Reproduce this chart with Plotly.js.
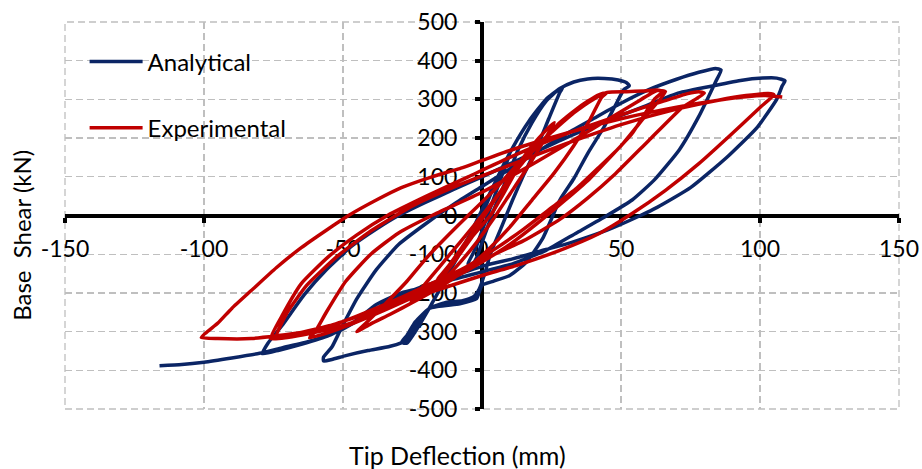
<!DOCTYPE html>
<html>
<head>
<meta charset="utf-8">
<script src="https://cdn.plot.ly/plotly-3.0.1.min.js"></script>
<style>html,body{margin:0;padding:0;background:#fff;}#chart{width:922px;height:469px;}</style>
</head>
<body>
<div id="chart"></div>
<script>
// Analytical (model) hysteresis: tip deflection (mm) and base shear (kN)
const analyticalDeflection = [
  0,4,8,10,8,4,0,-3,-5,-4,
  -2,1,4,8,13,18,23,27,29,28,
  24,20,15,11,7,3,1,-1,-3,-7,
  -13,-19,-24,-27,-29,-27,-24,-19,-14,-9,
  -4,0,5,11,17,23,28,33,38,44,
  49,52,53,51,48,44,38,33,28,22,
  16,10,4,0,-2,-8,-19,-24,-27,-33,
  -41,-49,-54,-57,-57,-54,-51,-45,-38,-30,
  -20,-10,0,10,20,30,40,50,60,70,
  78,84,86,84,78,71,62,54,45,34,
  23,11,3,-5,-12,-20,-29,-38,-46,-55,
  -65,-73,-79,-77,-72,-64,-56,-47,-38,-30,
  -20,-10,0,15,30,45,57,70,81,93,
  101,106,109,108,106,99,88,75,63,57,
  45,32,23,11,2,-11,-22,-32,-42,-52,
  -62,-72,-80,-90,-100,-108,-116
];
const analyticalShear = [
  0,70,135,160,120,40,-40,-95,-125,-135,
  -110,-50,10,80,170,240,295,322,330,318,
  250,180,105,40,-30,-100,-150,-190,-210,-220,
  -225,-240,-275,-310,-328,-330,-300,-240,-175,-110,
  -45,15,90,175,245,300,328,345,353,354,
  350,343,335,325,285,230,160,95,40,-57,
  -120,-155,-170,-180,-215,-228,-240,-290,-322,-338,
  -349,-362,-372,-376,-366,-340,-297,-215,-140,-75,
  -20,30,75,120,165,210,250,290,325,352,
  370,380,376,345,256,170,92,40,0,-45,
  -90,-125,-140,-155,-168,-185,-200,-230,-275,-310,
  -333,-348,-357,-330,-285,-205,-140,-80,-35,0,
  35,68,100,150,200,245,278,315,332,349,
  355,355,348,335,300,228,150,72,21,0,
  -38,-70,-88,-112,-127,-158,-185,-215,-260,-300,
  -325,-342,-356,-368,-379,-385,-388
];

// Experimental hysteresis
const experimentalDeflection = [
  0,5,10,15,13,8,3,-3,-9,-14,
  -16,-12,-6,0,6,12,18,23,26,22,
  16,10,4,-2,-9,-16,-22,-26,-22,-15,
  -8,0,8,15,22,28,34,38,42,45,
  43,39,33,26,18,10,2,-6,-15,-25,
  -33,-40,-45,-42,-35,-27,-20,-12,-5,5,
  15,25,33,40,45,52,58,63,65,62,
  54,46,38,30,20,10,0,-10,-20,-32,
  -45,-55,-62,-60,-56,-49,-40,-30,-18,0,
  20,40,55,63,66,58,50,42,34,25,
  15,5,-5,-18,-32,-48,-62,-70,-76,-72,
  -65,-55,-45,-34,-20,-5,10,30,50,65,
  74,78,80,72,60,48,38,28,15,0,
  -15,-30,-45,-58,-68,-74,-70,-63,-52,-40,
  -25,-8,10,30,50,70,85,95,103,105,
  100,90,78,66,54,42,28,12,0,-15,
  -30,-45,-55,-65,-83,-95,-101,-95,-90,-83,
  -74,-65,-56,-48,-38,-29,-18,-8,10,30,
  50,70,85,95,102,108
];
const experimentalShear = [
  0,45,95,150,125,60,0,-50,-110,-155,
  -165,-130,-70,-10,55,120,180,220,240,190,
  120,55,-10,-70,-130,-180,-210,-228,-190,-130,
  -70,0,75,140,195,240,275,295,312,318,
  305,250,180,110,40,-30,-90,-140,-185,-225,
  -255,-280,-300,-280,-230,-170,-110,-50,0,70,
  150,215,265,300,318,320,322,324,320,300,
  212,150,90,40,-20,-75,-120,-160,-195,-235,
  -275,-302,-316,-300,-250,-170,-100,-45,0,60,
  140,225,290,323,320,250,180,124,70,20,
  -35,-85,-130,-180,-230,-280,-305,-315,-318,-260,
  -176,-105,-50,0,50,100,150,210,260,295,
  315,320,316,279,194,108,45,-10,-65,-115,
  -165,-215,-260,-295,-310,-314,-250,-180,-105,-40,
  25,80,130,185,235,275,298,310,315,312,
  279,212,134,65,5,-47,-90,-130,-155,-190,
  -225,-262,-285,-302,-318,-318,-315,-278,-240,-194,
  -135,-83,-38,0,40,72,100,121,168,212,
  250,280,298,307,310,306
];

const seriesNames = ['Analytical', 'Experimental'];
const xTickValues = [-150, -100, -50, 0, 50, 100, 150];
const xTickLabels = ['-150', '-100', '-50', '0', '50', '100', '150'];
const yTickValues = [-500, -400, -300, -200, -100, 0, 100, 200, 300, 400, 500];
const yTickLabels = ['-500', '-400', '-300', '-200', '-100', '0', '100', '200', '300', '400', '500'];
const xTitle = 'Tip Deflection (mm)';
const yTitle = 'Base\u00a0 Shear (kN)';

const traces = [
  {x: analyticalDeflection, y: analyticalShear, name: seriesNames[0], type: 'scatter', mode: 'lines',
   line: {color: '#0B2565', width: 3.5, shape: 'spline', smoothing: 0.5}, legendgroup: 'a'},
  {x: experimentalDeflection, y: experimentalShear, name: seriesNames[1], type: 'scatter', mode: 'lines',
   line: {color: '#C00000', width: 3.5, shape: 'spline', smoothing: 0.5}, legendgroup: 'b'}
];

const gridStyle = {showgrid: true, gridcolor: '#BFBFBF', gridwidth: 1.3, griddash: '7px,4px'};

const layout = {
  width: 922, height: 469,
  margin: {l: 65, r: 23, t: 22, b: 60},
  paper_bgcolor: '#fff', plot_bgcolor: '#fff',
  font: {family: 'Lato, "Open Sans", sans-serif', size: 23, color: '#000'},
  xaxis: Object.assign({
    range: [-150, 150], tickmode: 'array', tickvals: xTickValues, ticktext: xTickLabels,
    anchor: 'free', position: 0.5,
    showline: true, linecolor: '#000', linewidth: 4,
    ticks: 'outside', ticklen: 5, tickwidth: 4, tickcolor: '#000',
    zeroline: false, layer: 'below traces', ticklabelstandoff: 7
  }, gridStyle),
  yaxis: Object.assign({
    range: [-500, 500], tickmode: 'array', tickvals: yTickValues, ticktext: yTickLabels,
    anchor: 'free', position: 0.5,
    showline: true, linecolor: '#000', linewidth: 4,
    ticks: 'outside', ticklen: 5, tickwidth: 4, tickcolor: '#000',
    zeroline: false, layer: 'below traces', ticklabelstandoff: 13
  }, gridStyle),
  showlegend: true,
  legend: {x: 0.0235, y: 0.955, xanchor: 'left', yanchor: 'top', bgcolor: 'rgba(0,0,0,0)',
           borderwidth: 0, traceorder: 'grouped', tracegroupgap: 32, itemwidth: 53,
           font: {size: 24}},
  shapes: [{type: 'rect', xref: 'paper', yref: 'paper', x0: 0, x1: 1, y0: 0, y1: 1,
            line: {color: '#BFBFBF', width: 1.3, dash: '7px,4px'}, layer: 'below'}],
  annotations: [
    {text: xTitle, xref: 'paper', yref: 'paper', x: 0.471, y: -0.12, xanchor: 'center', yanchor: 'middle',
     showarrow: false, font: {size: 25}},
    {text: yTitle, xref: 'paper', yref: 'paper', x: -0.052, y: 0.449, xanchor: 'center', yanchor: 'middle',
     textangle: -90, showarrow: false, font: {size: 24}}
  ]
};

Plotly.newPlot('chart', traces, layout, {staticPlot: true, displayModeBar: false});
</script>
</body>
</html>
